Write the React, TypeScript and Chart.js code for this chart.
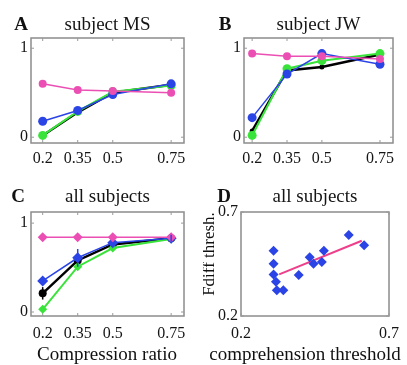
import React, { useEffect, useRef } from "react";
import { Chart, registerables } from "chart.js";

Chart.register(...registerables);

// ---------- data ----------
const compressionRatios = [0.2, 0.35, 0.5, 0.75];
const compressionTicks = [0.2, 0.35, 0.5, 0.75];
const proportionTicks = [0, 1];

const msMagenta = [0.6, 0.53, 0.52, 0.5];
const msBlue = [0.18, 0.3, 0.48, 0.6];
const msGreen = [0.02, 0.29, 0.51, 0.58];
const msBlack = [0.02, 0.28, 0.5, 0.59];

const jwMagenta = [0.94, 0.91, 0.91, 0.88];
const jwBlue = [0.22, 0.71, 0.94, 0.82];
const jwGreen = [0.02, 0.77, 0.86, 0.94];
const jwBlack = [0.07, 0.75, 0.79, 0.93];

const allMagenta = [0.84, 0.84, 0.84, 0.84];
const allBlue = [0.35, 0.61, 0.78, 0.83];
const allGreen = [0.03, 0.51, 0.72, 0.82];
const allBlack = [0.21, 0.58, 0.76, 0.83];
const allBlueErr = [0, 0.1, 0, 0.04];
const allBlackErr = [0.07, 0, 0, 0];

const comprehensionThreshold = [0.31, 0.31, 0.31, 0.318, 0.321, 0.343, 0.395, 0.432, 0.445, 0.473, 0.48, 0.564, 0.616];
const fdiffThreshold = [0.514, 0.451, 0.4, 0.365, 0.324, 0.324, 0.397, 0.482, 0.451, 0.46, 0.514, 0.59, 0.54];
const fitLineX = [0.329, 0.608];
const fitLineY = [0.4, 0.562];
const thresholdTicks = [0.2, 0.7];

// ---------- styling ----------
const SERIF = "'Liberation Serif', 'Times New Roman', serif";
const MAGENTA = "#ec4fb4";
const BLUE = "#2b44e6";
const GREEN = "#39e33a";
const BLACK = "#000000";
const FIT = "#ee3f8a";

const framePlugin = {
  id: "frame",
  beforeDatasetsDraw(chart: any) {
    const { ctx, chartArea: a } = chart;
    const xs = chart.scales.x;
    const ys = chart.scales.y;
    ctx.save();
    ctx.strokeStyle = "#8c8c8c";
    ctx.lineWidth = 1.5;
    ctx.strokeRect(a.left, a.top, a.right - a.left, a.bottom - a.top);
    ctx.lineWidth = 1;
    ctx.strokeStyle = "#9a9a9a";
    ctx.beginPath();
    xs.ticks.forEach((t: any) => {
      const px = xs.getPixelForValue(t.value);
      ctx.moveTo(px, a.bottom);
      ctx.lineTo(px, a.bottom - 3);
      ctx.moveTo(px, a.top);
      ctx.lineTo(px, a.top + 3);
    });
    ys.ticks.forEach((t: any) => {
      const py = ys.getPixelForValue(t.value);
      ctx.moveTo(a.left, py);
      ctx.lineTo(a.left + 3, py);
      ctx.moveTo(a.right, py);
      ctx.lineTo(a.right - 3, py);
    });
    ctx.stroke();
    ctx.restore();
  },
  afterDraw(chart: any, _args: any, opts: any) {
    const { ctx } = chart;
    ctx.save();
    ctx.fillStyle = "#111";
    ctx.textAlign = "center";
    ctx.textBaseline = "middle";
    if (opts && opts.letter) {
      ctx.font = `bold 19px ${SERIF}`;
      ctx.fillText(opts.letter, opts.x, opts.y);
    }
    if (opts && opts.xLabel) {
      ctx.font = `19px ${SERIF}`;
      ctx.fillText(opts.xLabel.text, opts.xLabel.x, opts.xLabel.y);
    }
    if (opts && opts.yLabel) {
      ctx.font = `17px ${SERIF}`;
      ctx.translate(opts.yLabel.x, opts.yLabel.y);
      ctx.rotate(-Math.PI / 2);
      ctx.fillText(opts.yLabel.text, 0, 0);
    }
    ctx.restore();
  },
};

const errorBarPlugin = {
  id: "errbars",
  afterDatasetsDraw(chart: any) {
    const { ctx } = chart;
    const xs = chart.scales.x;
    const ys = chart.scales.y;
    chart.data.datasets.forEach((ds: any) => {
      if (!ds.errors) return;
      ctx.save();
      ctx.strokeStyle = ds.borderColor;
      ctx.lineWidth = 1.5;
      ctx.beginPath();
      ds.data.forEach((p: any, i: number) => {
        const e = ds.errors[i];
        if (!e) return;
        const px = xs.getPixelForValue(p.x);
        ctx.moveTo(px, ys.getPixelForValue(p.y - e));
        ctx.lineTo(px, ys.getPixelForValue(p.y + e));
      });
      ctx.stroke();
      ctx.restore();
    });
  },
};

function series(values: number[], color: string, width: number, radius: number, style = "circle", errors?: number[]) {
  return {
    data: compressionRatios.map((x, i) => ({ x, y: values[i] })),
    borderColor: color,
    backgroundColor: color,
    borderWidth: width,
    pointRadius: radius,
    pointBorderWidth: 0,
    pointStyle: style,
    pointBackgroundColor: color,
    errors,
    tension: 0,
  };
}

function axis(opts: any) {
  const tickVals: number[] = opts.ticks;
  const a: any = {
    type: "linear",
    min: opts.min,
    max: opts.max,
    afterBuildTicks: (s: any) => {
      s.ticks = tickVals.map((v) => ({ value: v }));
    },
    grid: { display: false, drawTicks: false },
    border: { display: false },
    ticks: {
      autoSkip: false,
      maxRotation: 0,
      padding: opts.pad,
      color: "#151515",
      font: { family: SERIF, size: 16 },
      callback: (v: any) => String(v),
    },
  };
  if (opts.fit) a.afterFit = opts.fit;
  return a;
}

function buildConfig(p: any) {
  return {
    type: "line",
    data: { datasets: p.datasets },
    options: {
      animation: false,
      responsive: false,
      parsing: false,
      events: [],
      layout: { padding: p.padding },
      plugins: {
        legend: { display: false },
        tooltip: { enabled: false },
        title: {
          display: true,
          text: p.title,
          fullSize: false,
          color: "#151515",
          font: { family: SERIF, size: 19, weight: "normal", lineHeight: 1.2 },
          padding: p.titlePad,
        },
        frame: { letter: p.letter, x: p.letterX, y: p.letterY, xLabel: p.xLabel, yLabel: p.yLabel },
      },
      scales: {
        x: axis({
          min: p.xMin,
          max: p.xMax,
          ticks: p.xTicks,
          pad: p.xPad || 6,
          fit: (s: any) => {
            s.height = p.xHeight;
          },
        }),
        y: axis({
          min: p.yMin,
          max: p.yMax,
          ticks: p.yTicks,
          pad: 3,
          fit: (s: any) => {
            s.width = p.yWidth;
          },
        }),
      },
    },
    plugins: [framePlugin, errorBarPlugin],
  };
}

function Panel({ left, top, width, height, config }: any) {
  const ref = useRef<HTMLCanvasElement>(null);
  useEffect(() => {
    const chart = new Chart(ref.current as HTMLCanvasElement, config);
    return () => chart.destroy();
  }, []);
  return (
    <canvas
      ref={ref}
      width={width}
      height={height}
      style={{ position: "absolute", left, top, width, height }}
    />
  );
}

const Y_MIN = -0.065;
const Y_MAX = 1.115;
const X_MIN = 0.15;
const X_MAX = 0.805;

const configA = buildConfig({
  letter: "A", letterX: 21, letterY: 25,
  title: "subject MS",
  titlePad: { top: 14, bottom: 1.2 },
  padding: { top: 0, left: 0, right: 19, bottom: 0 },
  yWidth: 31, xHeight: 37,
  xMin: X_MIN, xMax: X_MAX, yMin: Y_MIN, yMax: Y_MAX,
  xTicks: compressionTicks, yTicks: proportionTicks,
  datasets: [
    series(msMagenta, MAGENTA, 1.5, 4),
    series(msBlue, BLUE, 1.5, 4.5),
    series(msGreen, GREEN, 2, 4.5),
    series(msBlack, BLACK, 2.5, 0),
  ],
});

const configB = buildConfig({
  letter: "B", letterX: 22, letterY: 25,
  title: "subject JW",
  titlePad: { top: 14, bottom: 1.2 },
  padding: { top: 0, left: 0, right: 14, bottom: 0 },
  yWidth: 41, xHeight: 37,
  xMin: 0.165, xMax: 0.806, yMin: Y_MIN, yMax: Y_MAX,
  xTicks: compressionTicks, yTicks: proportionTicks,
  datasets: [
    series(jwMagenta, MAGENTA, 1.5, 4),
    series(jwBlue, BLUE, 1.5, 4.5),
    series(jwGreen, GREEN, 2, 4.5),
    series(jwBlack, BLACK, 2.5, 2.5),
  ],
});

const configC = buildConfig({
  letter: "C", letterX: 18, letterY: 17,
  title: "all subjects",
  titlePad: { top: 5.6, bottom: 3.6 },
  padding: { top: 0, left: 0, right: 19, bottom: 0 },
  yWidth: 31, xHeight: 49, xPad: 8,
  xMin: X_MIN, xMax: X_MAX, yMin: -0.045, yMax: 1.125,
  xTicks: compressionTicks, yTicks: proportionTicks,
  xLabel: { text: "Compression ratio", x: 107, y: 175 },
  datasets: [
    series(allMagenta, MAGENTA, 1.5, 5, "rectRot"),
    series(allBlue, BLUE, 1.5, 5.5, "rectRot", allBlueErr),
    series(allGreen, GREEN, 2, 4.5, "rectRot"),
    series(allBlack, BLACK, 2.5, 4, "circle", allBlackErr),
  ],
});

const configD = buildConfig({
  letter: "D", letterX: 21, letterY: 17,
  title: "all subjects",
  titlePad: { top: 5.6, bottom: 3.6 },
  padding: { top: 0, left: 0, right: 15, bottom: 0 },
  yWidth: 38, xHeight: 49, xPad: 8,
  xMin: 0.2, xMax: 0.7, yMin: 0.2, yMax: 0.7,
  xTicks: thresholdTicks, yTicks: thresholdTicks,
  xLabel: { text: "comprehension threshold", x: 102, y: 175 },
  yLabel: { text: "Fdiff thresh.", x: 7, y: 74 },
  datasets: [
    {
      type: "scatter",
      data: comprehensionThreshold.map((x, i) => ({ x, y: fdiffThreshold[i] })),
      showLine: false,
      pointStyle: "rectRot",
      pointRadius: 5,
      pointBorderWidth: 0,
      backgroundColor: BLUE,
      borderColor: BLUE,
    },
    {
      data: fitLineX.map((x, i) => ({ x, y: fitLineY[i] })),
      borderColor: FIT,
      backgroundColor: FIT,
      borderWidth: 2,
      pointRadius: 0,
    },
  ],
});

export default function App() {
  return (
    <div
      style={{
        position: "absolute",
        left: 0,
        top: 0,
        width: 407,
        height: 365,
        overflow: "hidden",
        background: "#fff",
      }}
    >
      <Panel left={0} top={0} width={203} height={180} config={configA} />
      <Panel left={203} top={0} width={204} height={180} config={configB} />
      <Panel left={0} top={180} width={203} height={185} config={configC} />
      <Panel left={203} top={180} width={204} height={185} config={configD} />
    </div>
  );
}
